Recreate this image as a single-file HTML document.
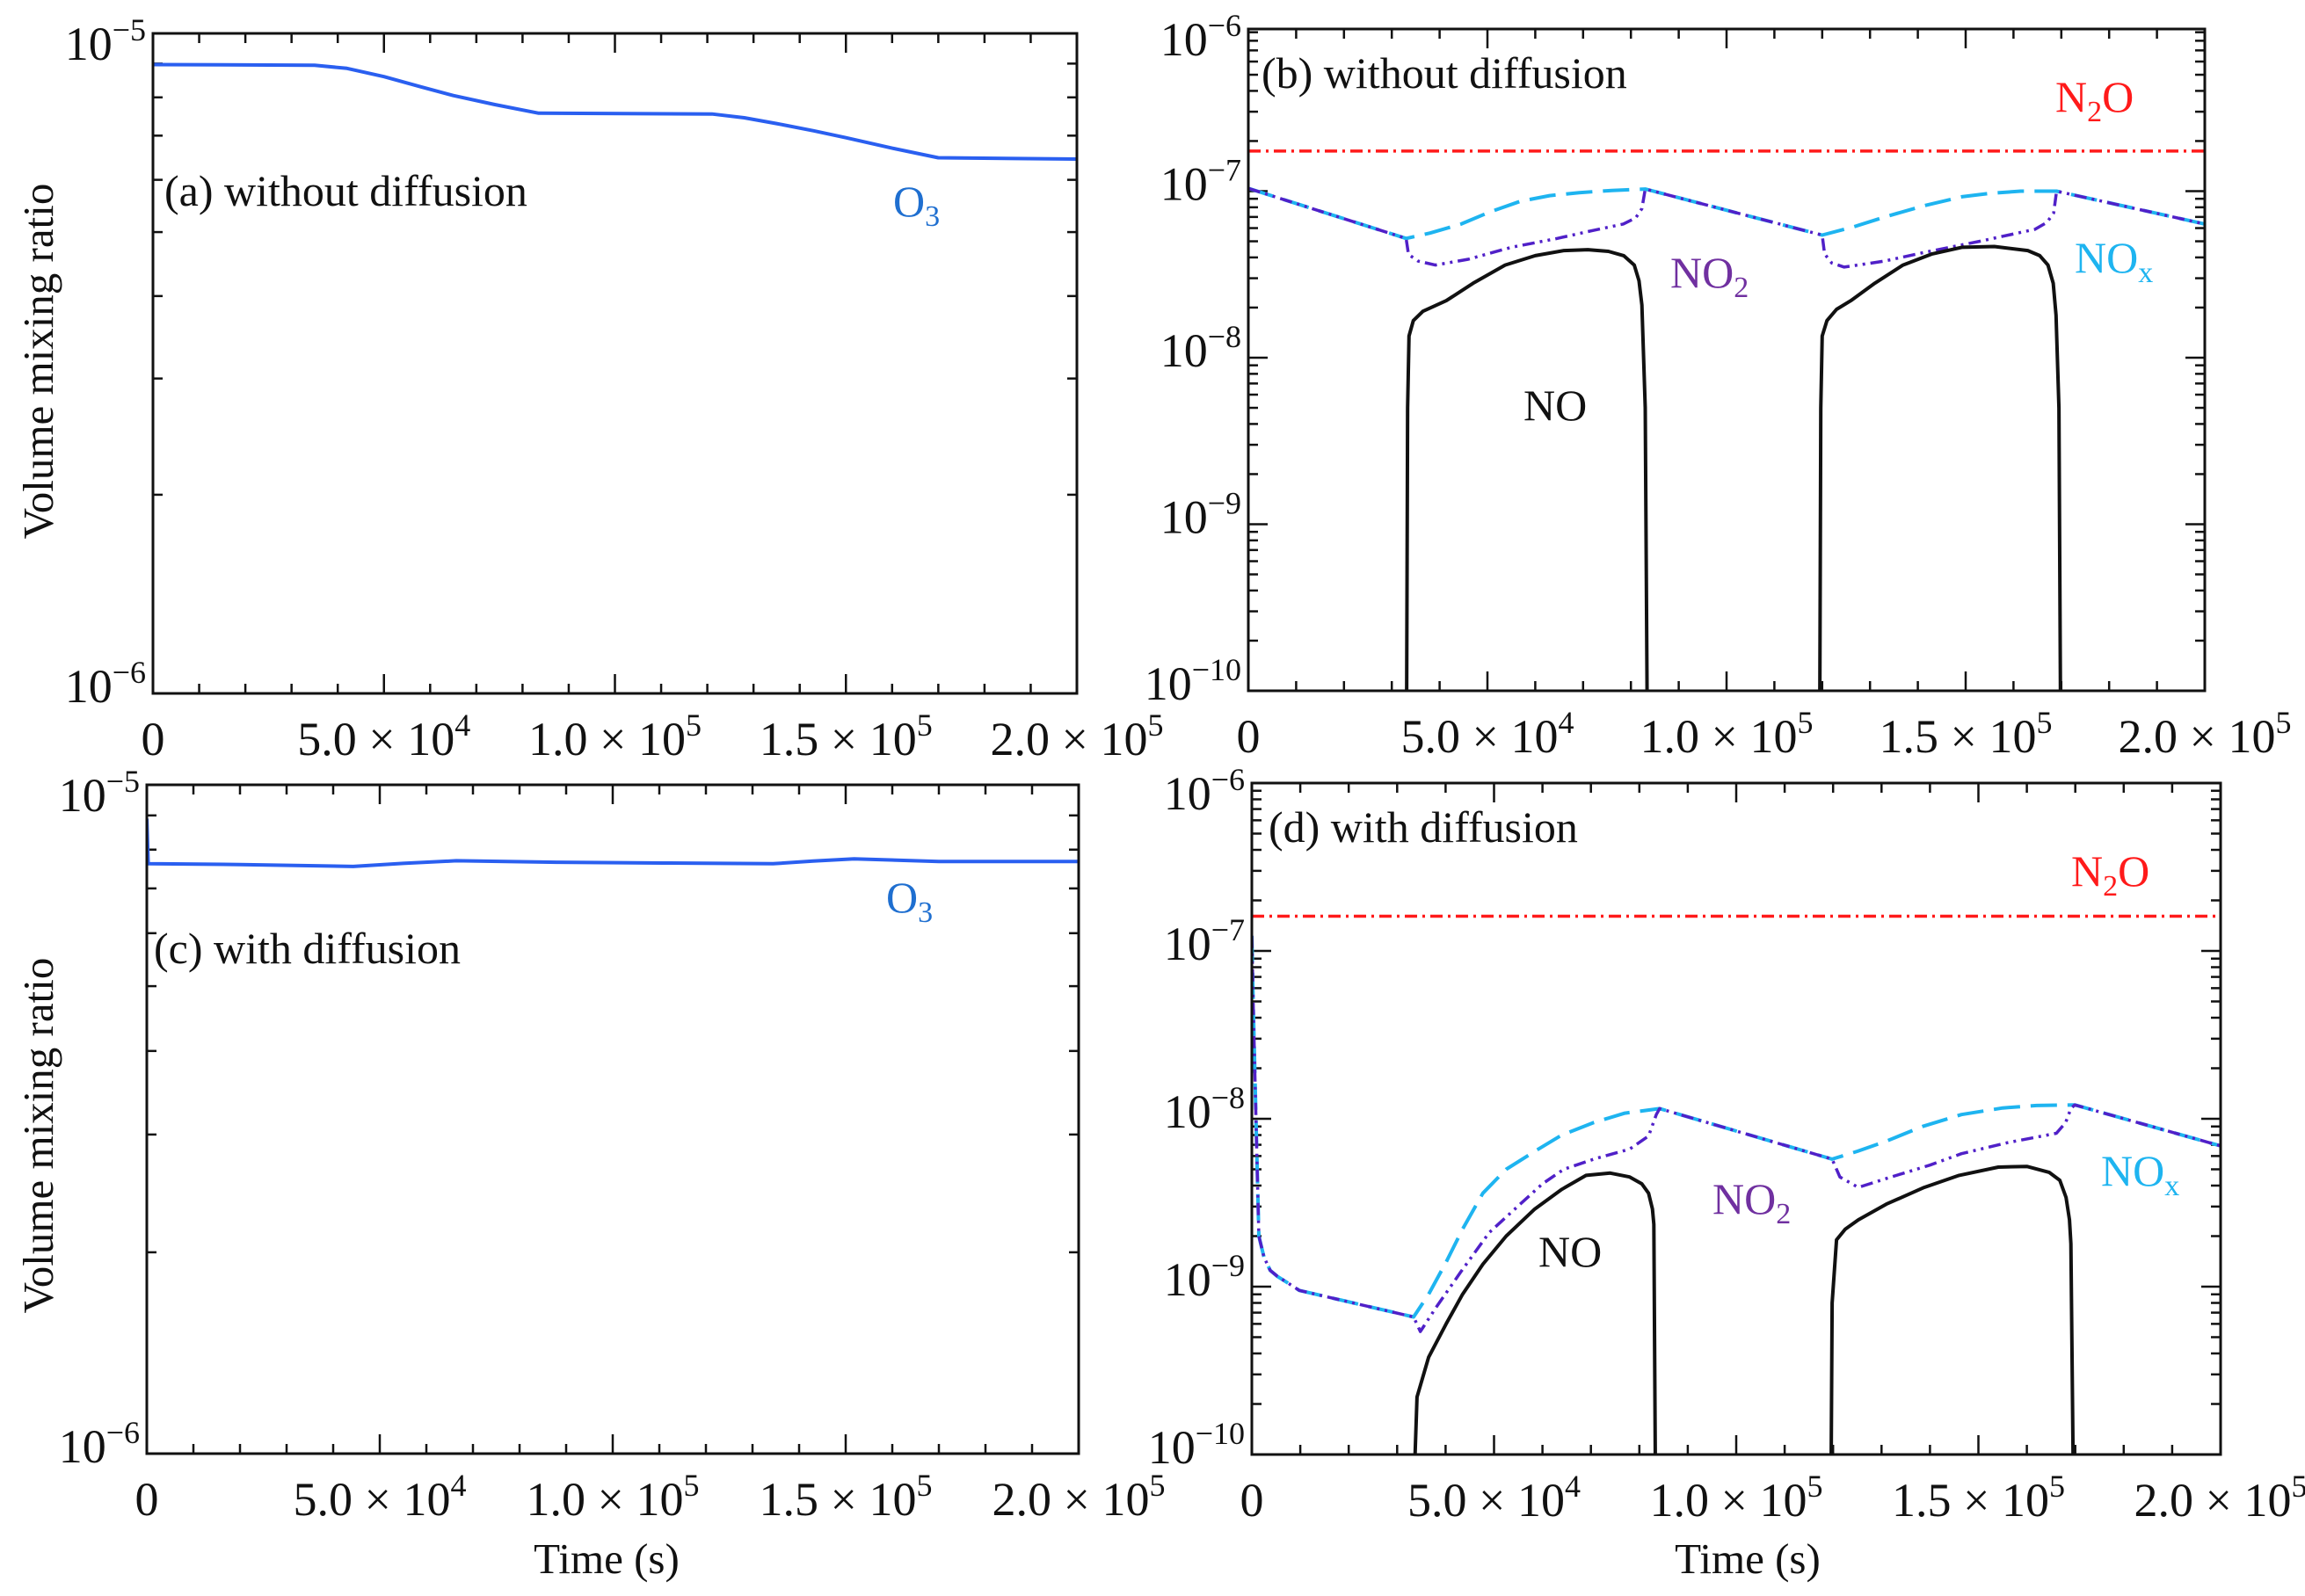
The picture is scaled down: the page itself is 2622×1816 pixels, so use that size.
<!DOCTYPE html>
<html><head><meta charset="utf-8"><style>
html,body{margin:0;padding:0;background:#fff;}
svg{display:block;font-family:"Liberation Serif",serif;}
</style></head>
<body>
<svg id="fig" width="2622" height="1816" viewBox="0 0 2622 1816" xmlns="http://www.w3.org/2000/svg"></svg>
<script>
// ---- data (time in s, volume mixing ratio) ----
const o3aT = [0, 35000, 42000, 50000, 58000, 65000, 74000, 83500, 121000, 128000, 135000, 143000, 150000, 160000, 170000, 200000];
const o3aV = [8.97e-6, 8.95e-6, 8.85e-6, 8.6e-6, 8.3e-6, 8.05e-6, 7.8e-6, 7.57e-6, 7.55e-6, 7.45e-6, 7.3e-6, 7.12e-6, 6.95e-6, 6.7e-6, 6.48e-6, 6.45e-6];
const o3cT = [0, 300, 20000, 44300, 55000, 66400, 88000, 110600, 134400, 143000, 151800, 170000, 200000];
const o3cV = [8.9e-6, 7.62e-6, 7.6e-6, 7.55e-6, 7.63e-6, 7.7e-6, 7.66e-6, 7.64e-6, 7.62e-6, 7.69e-6, 7.75e-6, 7.68e-6, 7.68e-6];

const n2oBV = 1.74e-7;
const noxBT = [0, 33000, 38000, 44500, 50500, 56900, 63000, 69200, 76000, 83000, 120000, 126500, 133800, 141500, 149200, 155000, 161500, 169000, 200000];
const noxBV = [1.04e-7, 5.2e-8, 5.6e-8, 6.35e-8, 7.5e-8, 8.7e-8, 9.4e-8, 9.8e-8, 1.01e-7, 1.03e-7, 5.45e-8, 6.1e-8, 7.1e-8, 8.2e-8, 9.25e-8, 9.7e-8, 1.0e-7, 1.0e-7, 6.35e-8];
const no2BT = [0, 33000, 33500, 35500, 39100, 46000, 55000, 64600, 72000, 78400, 81000, 82300, 83000, 120000, 120500, 122000, 124600, 133000, 141500, 153000, 164500, 167000, 168400, 169000, 200000];
const no2BV = [1.04e-7, 5.2e-8, 4.17e-8, 3.8e-8, 3.6e-8, 3.9e-8, 4.6e-8, 5.2e-8, 5.8e-8, 6.35e-8, 6.9e-8, 7.85e-8, 1.03e-7, 5.45e-8, 4.2e-8, 3.7e-8, 3.5e-8, 3.8e-8, 4.3e-8, 5.0e-8, 5.9e-8, 6.5e-8, 7.4e-8, 1.0e-7, 6.35e-8];
const noBT = [33000, 33300, 33600, 34500, 36500, 41400, 47000, 53700, 60000, 66000, 71000, 75300, 78500, 80700, 81700, 82300, 83000, 83600, 119400, 119700, 120000, 121000, 123000, 126000, 131000, 136900, 143000, 149200, 156000, 163000, 165500, 167200, 168300, 168900, 169500, 170000];
const noBV = [1e-11, 5e-9, 1.35e-8, 1.67e-8, 1.9e-8, 2.2e-8, 2.8e-8, 3.6e-8, 4.1e-8, 4.4e-8, 4.45e-8, 4.35e-8, 4.1e-8, 3.6e-8, 2.9e-8, 2.07e-8, 5e-9, 1e-11, 1e-11, 5e-9, 1.35e-8, 1.67e-8, 1.95e-8, 2.2e-8, 2.8e-8, 3.6e-8, 4.2e-8, 4.6e-8, 4.65e-8, 4.4e-8, 4.1e-8, 3.6e-8, 2.8e-8, 1.8e-8, 5e-9, 1e-11];

const n2oDV = 1.61e-7;
const noxDT = [0, 300, 700, 1100, 1450, 2500, 3800, 5300, 7500, 9800, 33400, 36500, 40100, 43500, 47700, 52500, 58400, 64000, 70600, 77000, 84200, 119800, 125000, 131200, 138500, 146500, 155000, 162000, 169900, 200000];
const noxDV = [1.23e-7, 4.5e-8, 1.5e-8, 5e-9, 2.0e-9, 1.5e-9, 1.25e-9, 1.15e-9, 1.05e-9, 9.5e-10, 6.6e-10, 9e-10, 1.4e-9, 2.2e-9, 3.6e-9, 5.0e-9, 6.4e-9, 8.0e-9, 9.5e-9, 1.08e-8, 1.15e-8, 5.75e-9, 6.4e-9, 7.4e-9, 9.0e-9, 1.06e-8, 1.16e-8, 1.2e-8, 1.21e-8, 6.9e-9];
const no2DT = [0, 300, 700, 1100, 1450, 2500, 3800, 5300, 7500, 9800, 33400, 34800, 38000, 43200, 49000, 55400, 60000, 64400, 71000, 78000, 81900, 83500, 84200, 119800, 121400, 125200, 132000, 140000, 146500, 156000, 166100, 168000, 169100, 169900, 200000];
const no2DV = [1.23e-7, 4.5e-8, 1.5e-8, 5e-9, 2.0e-9, 1.5e-9, 1.25e-9, 1.15e-9, 1.05e-9, 9.5e-10, 6.6e-10, 5.4e-10, 7.5e-10, 1.23e-9, 2.1e-9, 3.1e-9, 4.1e-9, 5.0e-9, 5.8e-9, 6.6e-9, 7.9e-9, 1.06e-8, 1.15e-8, 5.75e-9, 4.5e-9, 3.9e-9, 4.5e-9, 5.3e-9, 6.2e-9, 7.2e-9, 8.2e-9, 9.5e-9, 1.15e-8, 1.21e-8, 6.9e-9];
const noDT = [33400, 33700, 34100, 36500, 40100, 43500, 47700, 52500, 58400, 64000, 69000, 74000, 78000, 80500, 81900, 82700, 83000, 83500, 119400, 119800, 120700, 122500, 125200, 131000, 138800, 146000, 154100, 160000, 164600, 166800, 168100, 168800, 169100, 169900];
const noDV = [1e-11, 1e-10, 2.2e-10, 3.8e-10, 6e-10, 9e-10, 1.36e-9, 2.0e-9, 2.9e-9, 3.8e-9, 4.6e-9, 4.75e-9, 4.5e-9, 4.1e-9, 3.6e-9, 2.9e-9, 2.35e-9, 1e-11, 1e-11, 8e-10, 1.9e-9, 2.2e-9, 2.5e-9, 3.1e-9, 3.9e-9, 4.6e-9, 5.15e-9, 5.2e-9, 4.8e-9, 4.3e-9, 3.4e-9, 2.5e-9, 1.8e-9, 1e-11];

const xTickVals = [0, 50000, 100000, 150000, 200000];
const xTickMain = ["0", "5.0", "1.0", "1.5", "2.0"];
const xTickExp = ["", "4", "5", "5", "5"];

const NS = "http://www.w3.org/2000/svg";
const svg = document.getElementById("fig");
function el(tag, attrs, parent) {
  const e = document.createElementNS(NS, tag);
  for (const k in attrs) e.setAttribute(k, attrs[k]);
  (parent || svg).appendChild(e);
  return e;
}

function panel(id, L, R, T, B, yMinExp, yMaxExp, yTop) {
  const g = el("g", {});
  
  
  const decade = (B - yTop) / (yMaxExp - yMinExp);
  const xs = t => L + (t / 200000) * (R - L);
  const ys = v => B - (Math.log10(v) - yMinExp) * decade;
  const clip = el("clipPath", { id: "clip-" + id }, g);
  el("rect", { x: L, y: T, width: R - L, height: B - T }, clip);
  const tk = el("g", { stroke: "#111", "stroke-width": 2.5 }, g);
  
  
  for (let t = 0; t <= 200000; t += 10000) {
    const len = (t % 50000 === 0) ? 22 : 11;
    const x = xs(t);
    el("line", { x1: x, y1: B, x2: x, y2: B - len }, tk);
    el("line", { x1: x, y1: T, x2: x, y2: T + len }, tk);
  }
  for (let e = yMinExp; e <= yMaxExp; e++) {
    for (let m = 1; m <= 9; m++) {
      const y = ys(m * Math.pow(10, e));
      if (y < T - 1 || y > B + 1) continue;
      const len = m === 1 ? 22 : 11;
      el("line", { x1: L, y1: y, x2: L + len, y2: y }, tk);
      el("line", { x1: R, y1: y, x2: R - len, y2: y }, tk);
    }
  }
  for (let e = yMinExp; e <= yMaxExp; e++) {
    let y = ys(Math.pow(10, e));
    if (y < T - 15 || y > B + 5) continue;
    let by = y + 10;
    if (y < T + 12) by = T + 30;
    const tx = el("text", { x: L - 8, y: by, "text-anchor": "end", "font-size": 54, fill: "#111" }, g);
    
    
    tx.innerHTML = '10<tspan dy="-22" font-size="36">\u2212' + (-e) + '</tspan>';
  }
  xTickVals.forEach((t, i) => {
    const tx = el("text", { x: xs(t), y: B + 70, "text-anchor": "middle", "font-size": 54, fill: "#111" }, g);
    
    
    if (xTickExp[i]) tx.innerHTML = xTickMain[i] + ' \u00d7 10<tspan dy="-22" font-size="36">' + xTickExp[i] + '</tspan>';
    else tx.textContent = xTickMain[i];
  });
  const plot = el("g", { "clip-path": "url(#clip-" + id + ")", fill: "none" }, g);
  function line(T_, V_, stroke, w, dash, name) {
    const d = T_.map((t, i) => (i ? "L" : "M") + xs(t).toFixed(1) + "," + ys(V_[i]).toFixed(1)).join(" ");
    const p = el("path", { d: d, stroke: stroke, "stroke-width": w, "stroke-linejoin": "round" }, plot);
    if (dash) p.setAttribute("stroke-dasharray", dash);
    
    
  }
  const fr = el("rect", { x: L, y: T, width: R - L, height: B - T, fill: "none", stroke: "#111", "stroke-width": 3 }, g);
  
  
  return { line: line, g: g };
}
function label(x, y, html, color, name) {
  const t = el("text", { x: x, y: y, "font-size": 50, fill: color });
  t.innerHTML = html;
  
  
  return t;
}
const sub = s => '<tspan dy="11" font-size="34">' + s + '</tspan>';

const pa = panel("a", 174, 1225, 38, 789, -6, -5, 38);
pa.line(o3aT, o3aV, "#2a5ff0", 4, null, "o3-line-a");
label(187, 234, "(a) without diffusion", "#111", "panel-a-title");
label(1016, 246, "O" + sub("3"), "#1f6fd0", "o3-label-a");

const pc = panel("c", 167, 1227, 893, 1654, -6, -5, 893);
pc.line(o3cT, o3cV, "#2a5ff0", 4, null, "o3-line-c");
label(175, 1096, "(c) with diffusion", "#111", "panel-c-title");
label(1008, 1038, "O" + sub("3"), "#1f6fd0", "o3-label-c");

const pb = panel("b", 1420, 2508, 33, 786, -10, -6, 28);
pb.line([0, 200000], [n2oBV, n2oBV], "#ff1a1a", 3.5, "14 6 3 6", "n2o-line-b");
pb.line(noxBT, noxBV, "#1eb4f0", 4, "30 12", "nox-line-b");
pb.line(no2BT, no2BV, "#5020c8", 3.5, "14 6 3 6 3 6", "no2-line-b");
pb.line(noBT, noBV, "#111", 4, null, "no-line-b");
label(1435, 100, "(b) without diffusion", "#111", "panel-b-title");
label(2338, 127, "N" + sub("2") + '<tspan dy="-11">O</tspan>', "#ff1a1a", "n2o-label-b");
label(1900, 327, "NO" + sub("2"), "#7030a0", "no2-label-b");
label(2360, 310, "NO" + sub("x"), "#1eb4f0", "nox-label-b");
label(1733, 478, "NO", "#111", "no-label-b");

const pd = panel("d", 1424, 2526, 891, 1655, -10, -6, 891);
pd.line([0, 200000], [n2oDV, n2oDV], "#ff1a1a", 3.5, "14 6 3 6", "n2o-line-d");
pd.line(noxDT, noxDV, "#1eb4f0", 4, "30 12", "nox-line-d");
pd.line(no2DT, no2DV, "#5020c8", 3.5, "14 6 3 6 3 6", "no2-line-d");
pd.line(noDT, noDV, "#111", 4, null, "no-line-d");
label(1443, 958, "(d) with diffusion", "#111", "panel-d-title");
label(2356, 1008, "N" + sub("2") + '<tspan dy="-11">O</tspan>', "#ff1a1a", "n2o-label-d");
label(1948, 1381, "NO" + sub("2"), "#7030a0", "no2-label-d");
label(2390, 1349, "NO" + sub("x"), "#1eb4f0", "nox-label-d");
label(1750, 1441, "NO", "#111", "no-label-d");

const ya = el("text", { x: 0, y: 0, "font-size": 49, fill: "#111", "text-anchor": "middle", transform: "translate(60,411) rotate(-90)" });
ya.textContent = "Volume mixing ratio";


const yc = el("text", { x: 0, y: 0, "font-size": 49, fill: "#111", "text-anchor": "middle", transform: "translate(60,1292) rotate(-90)" });
yc.textContent = "Volume mixing ratio";


const xc = el("text", { x: 690, y: 1790, "font-size": 49, fill: "#111", "text-anchor": "middle" });
xc.textContent = "Time (s)";


const xd = el("text", { x: 1988, y: 1790, "font-size": 49, fill: "#111", "text-anchor": "middle" });
xd.textContent = "Time (s)";


</script>
</body></html>
